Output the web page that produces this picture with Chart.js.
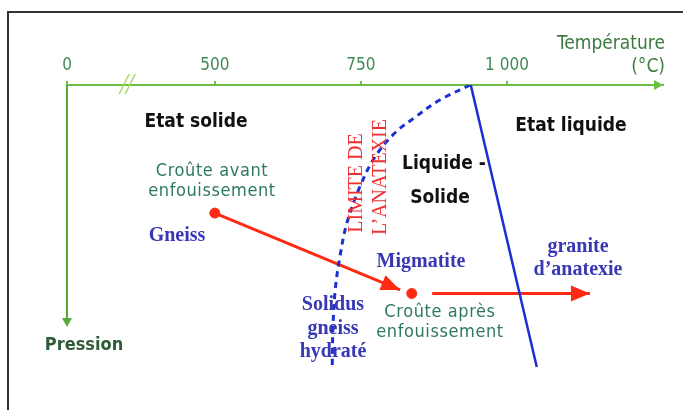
<!DOCTYPE html>
<html>
<head>
<meta charset="utf-8">
<script src="https://cdn.jsdelivr.net/npm/chart.js@4/dist/chart.umd.min.js"></script>
<style>
  html, body { margin: 0; padding: 0; background: #fff; }
  canvas { display: block; }
</style>
</head>
<body>
<canvas id="diagram" width="685" height="410"></canvas>
<script>
// Température axis (°C) — the axis is broken between 0 and 500
const tickTemps = [0, 500, 750, 1000];
const tickLabels = ['0', '500', '750', '1 000'];
const AXIS_ORIGIN_T = 247;   // where "0" sits on the broken axis
const AXIS_MAX_T = 1267;
const AXIS_BREAK_T = 350;
const PRESSURE_AXIS_END = 8.07;

// Solidus gneiss hydraté / limite de l'anatexie (dashed)
const solidusT = [937, 885, 843, 808, 774, 748, 726, 714, 706, 702, 701];
const solidusP = [0, 0.5, 1.07, 1.6, 2.4, 3.4, 4.6, 5.73, 6.83, 8.17, 9.33];

// Liquidus (solid)
const liquidusT = [938, 1051];
const liquidusP = [0, 9.4];

// Croûte: avant -> après enfouissement -> granite d'anatexie
const buryT = [500, 817];
const buryP = [4.27, 6.83];
const meltT = [872, 1142];
const meltP = [6.95, 6.95];
const crustT = [500, 837];
const crustP = [4.27, 6.95];

const zip = (xs, ys) => xs.map((x, i) => ({ x, y: ys[i] }));

const GREEN = '#6cbf45';
const BLUE = '#1c2fd4';
const RED = '#ff2a14';
const SANS = '"DejaVu Sans Condensed", "Liberation Sans Narrow", sans-serif';
const SERIF = '"Liberation Serif", "DejaVu Serif", serif';

// text placed on the picture
const texts = [
  { t: 'Température', x: 665, y: 44, align: 'right', font: '19px ' + SANS, color: '#3c7a3e' },
  { t: '(°C)', x: 665, y: 67, align: 'right', font: '19px ' + SANS, color: '#3c7a3e' },
  { t: 'Pression', x: 84, y: 345, font: 'bold 18px ' + SANS, color: '#2f5b37' },
  { t: 'Etat solide', x: 196, y: 122, font: 'bold 19px ' + SANS, color: '#111' },
  { t: 'Etat liquide', x: 571, y: 126, font: 'bold 19px ' + SANS, color: '#111' },
  { t: 'Liquide -', x: 444, y: 164, font: 'bold 19px ' + SANS, color: '#111' },
  { t: 'Solide', x: 440, y: 198, font: 'bold 19px ' + SANS, color: '#111' },
  { t: 'Croûte avant', x: 212, y: 171, font: '18px ' + SANS, color: '#2e7a5c', sp: '0.6px' },
  { t: 'enfouissement', x: 212, y: 191, font: '18px ' + SANS, color: '#2e7a5c', sp: '0.6px' },
  { t: 'Croûte après', x: 440, y: 312, font: '18px ' + SANS, color: '#2e7a5c', sp: '0.6px' },
  { t: 'enfouissement', x: 440, y: 332, font: '18px ' + SANS, color: '#2e7a5c', sp: '0.6px' },
  { t: 'Gneiss', x: 177, y: 236, font: 'bold 20px ' + SERIF, color: '#3838b4' },
  { t: 'Migmatite', x: 421, y: 262, font: 'bold 20px ' + SERIF, color: '#3838b4' },
  { t: 'Solidus', x: 333, y: 305, font: 'bold 20px ' + SERIF, color: '#3838b4' },
  { t: 'gneiss', x: 333, y: 329, font: 'bold 20px ' + SERIF, color: '#3838b4' },
  { t: 'hydraté', x: 333, y: 352, font: 'bold 20px ' + SERIF, color: '#3838b4' },
  { t: 'granite', x: 578, y: 247, font: 'bold 20px ' + SERIF, color: '#3838b4' },
  { t: 'd\u2019anatexie', x: 578, y: 270, font: 'bold 20px ' + SERIF, color: '#3838b4' },
  { t: 'LIMITE DE', x: 357, y: 183, rot: true, font: '20px ' + SERIF, color: '#ee3030' },
  { t: 'L\u2019ANATEXIE', x: 381, y: 177, rot: true, font: '20px ' + SERIF, color: '#ee3030' }
];

const decor = {
  id: 'decor',
  beforeDraw(chart) {
    const ctx = chart.ctx;
    ctx.save();
    ctx.strokeStyle = '#333';
    ctx.lineWidth = 2;
    ctx.beginPath();
    ctx.moveTo(8, 410);
    ctx.lineTo(8, 12);
    ctx.lineTo(683, 12);
    ctx.stroke();
    ctx.restore();
  },
  afterDraw(chart) {
    const ctx = chart.ctx;
    const { x, y } = chart.scales;
    const top = chart.chartArea.top;
    const x0 = chart.chartArea.left;
    ctx.save();
    // axis arrows
    ctx.strokeStyle = '#5aa83a';
    ctx.fillStyle = '#5aa83a';
    ctx.lineWidth = 2;
    const yEnd = y.getPixelForValue(PRESSURE_AXIS_END);
    ctx.beginPath();
    ctx.moveTo(x0, top);
    ctx.lineTo(x0, yEnd - 6);
    ctx.stroke();
    ctx.beginPath();
    ctx.moveTo(x0 - 5, yEnd - 9);
    ctx.lineTo(x0 + 5, yEnd - 9);
    ctx.lineTo(x0, yEnd);
    ctx.closePath();
    ctx.fill();
    ctx.fillStyle = GREEN;
    const xr = chart.chartArea.right;
    ctx.beginPath();
    ctx.moveTo(xr - 9, top - 5);
    ctx.lineTo(xr - 9, top + 5);
    ctx.lineTo(xr, top);
    ctx.closePath();
    ctx.fill();
    // break marks
    const bx = x.getPixelForValue(AXIS_BREAK_T);
    ctx.strokeStyle = '#a6d86e';
    ctx.lineWidth = 1.5;
    [-3, 3].forEach(d => {
      ctx.beginPath();
      ctx.moveTo(bx + d - 5, top + 9);
      ctx.lineTo(bx + d + 5, top - 11);
      ctx.stroke();
    });
    // arrow heads
    chart.data.datasets.forEach((ds, i) => {
      if (!ds.arrowHead) return;
      const pts = chart.getDatasetMeta(i).data;
      const a = pts[pts.length - 2], b = pts[pts.length - 1];
      const ang = Math.atan2(b.y - a.y, b.x - a.x);
      const L = 19, W = 8;
      ctx.fillStyle = ds.borderColor;
      ctx.beginPath();
      ctx.moveTo(b.x, b.y);
      ctx.lineTo(b.x - L * Math.cos(ang) + W * Math.sin(ang), b.y - L * Math.sin(ang) - W * Math.cos(ang));
      ctx.lineTo(b.x - L * Math.cos(ang) - W * Math.sin(ang), b.y - L * Math.sin(ang) + W * Math.cos(ang));
      ctx.closePath();
      ctx.fill();
    });
    // texts
    ctx.textBaseline = 'middle';
    texts.forEach(o => {
      ctx.font = o.font;
      ctx.fillStyle = o.color;
      ctx.textAlign = o.align || 'center';
      ctx.letterSpacing = o.sp || '0px';
      if (o.rot) {
        ctx.save();
        ctx.translate(o.x, o.y);
        ctx.rotate(-Math.PI / 2);
        ctx.fillText(o.t, 0, 0);
        ctx.restore();
      } else {
        ctx.fillText(o.t, o.x, o.y);
      }
    });
    ctx.restore();
  }
};

new Chart(document.getElementById('diagram').getContext('2d'), {
  type: 'scatter',
  data: {
    datasets: [
      { data: zip(solidusT, solidusP), showLine: true, borderColor: BLUE, borderWidth: 3,
        borderDash: [6, 5], tension: 0.35, pointRadius: 0 },
      { data: zip(liquidusT, liquidusP), showLine: true, borderColor: BLUE, borderWidth: 2.5, pointRadius: 0 },
      { data: zip(buryT, buryP), showLine: true, borderColor: RED, borderWidth: 3, pointRadius: 0, arrowHead: true },
      { data: zip(meltT, meltP), showLine: true, borderColor: RED, borderWidth: 3, pointRadius: 0, arrowHead: true },
      { data: zip(crustT, crustP), showLine: false, backgroundColor: RED, borderColor: RED, pointRadius: 5 }
    ]
  },
  options: {
    responsive: false,
    animation: false,
    layout: { padding: { left: 67, right: 22, top: 57, bottom: 25 } },
    plugins: { legend: { display: false }, tooltip: { enabled: false } },
    scales: {
      x: {
        type: 'linear',
        position: 'top',
        min: AXIS_ORIGIN_T,
        max: AXIS_MAX_T,
        afterBuildTicks: s => { s.ticks = tickTemps.map(t => ({ value: t === 0 ? AXIS_ORIGIN_T : t })); },
        afterFit: s => { s.height = 28; },
        ticks: {
          callback: (v, i) => tickLabels[i],
          color: '#3f8a55',
          font: { family: SANS, size: 17 },
          padding: 5,
          maxRotation: 0,
          autoSkip: false
        },
        grid: { drawOnChartArea: false, tickLength: 4, color: GREEN, lineWidth: 2 },
        border: { color: GREEN, width: 2 }
      },
      y: { type: 'linear', reverse: true, min: 0, max: 10, display: false }
    }
  },
  plugins: [decor]
});
</script>
</body>
</html>
